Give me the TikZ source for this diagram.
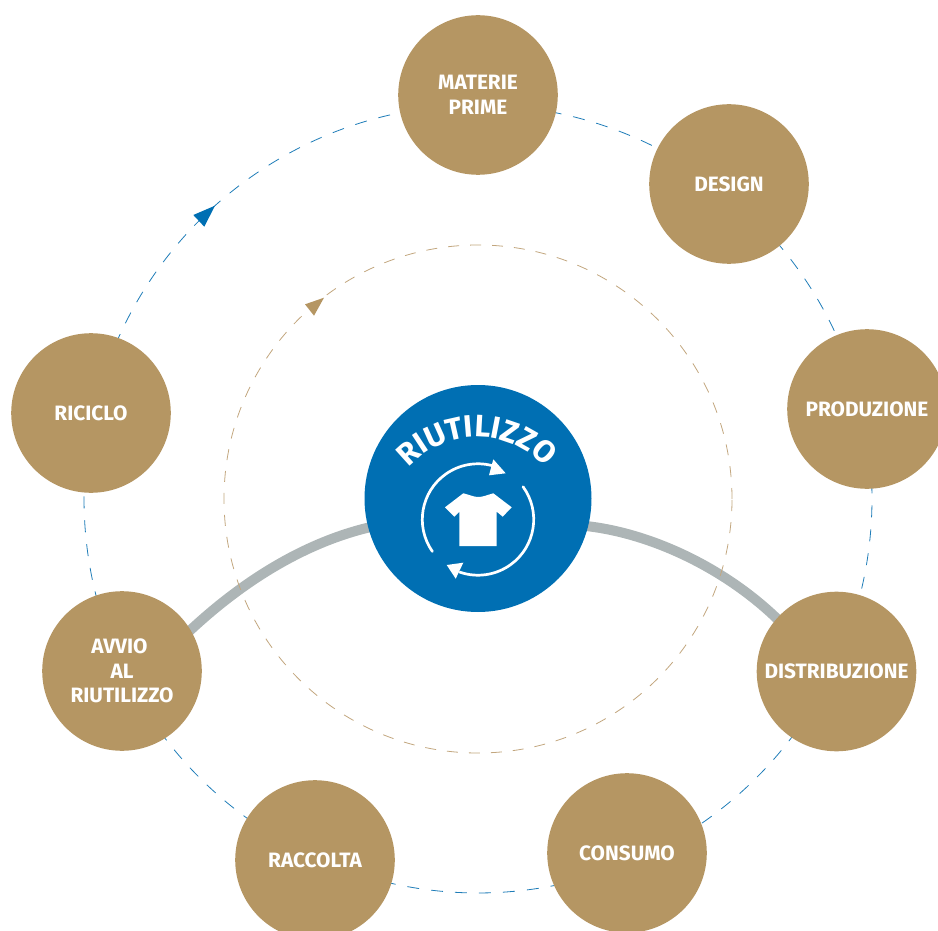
\documentclass[tikz,border=0pt]{standalone}
\usepackage{fontspec}
\setmainfont{Fira Sans}[BoldFont={Fira Sans Bold}]
\usetikzlibrary{decorations.text,calc,backgrounds}
\definecolor{gold}{HTML}{B59663}
\definecolor{bluec}{HTML}{006FB3}
\definecolor{greyc}{HTML}{ADB5B6}
\definecolor{ringblue}{HTML}{1F7DB8}
\definecolor{ringgold}{HTML}{C2A67E}
\tikzset{
  x=1pt,y=1pt,
  stage/.style={circle,fill=gold,draw=none,minimum size=159.6pt,inner sep=0pt,text=white,align=center,font=\fontsize{20.8}{24.5}\selectfont\bfseries},
  ringline/.style={draw=ringblue,line width=0.8pt,dash pattern=on 12pt off 12pt},
  innerring/.style={draw=ringgold,line width=0.8pt,dash pattern=on 11pt off 11pt},
  spine/.style={draw=greyc,line width=10pt},
  iconline/.style={draw=white,line width=2.7pt,line cap=round},
}
\newcommand\ringarc[2]{%
  \draw[ringline] let \p1=(#1),\p2=(#2),\p3=(rc),
    \n1={atan2(\y1-\y3,\x1-\x3)},\n2={atan2(\y2-\y3,\x2-\x3)},
    \n3={mod(\n1-\n2+720,360)} in
    (rc) ++(\n1:394) arc[start angle=\n1,delta angle=-\n3,radius=394];}
\begin{document}
\begin{tikzpicture}
\useasboundingbox (0,-931) rectangle (938,0);
\clip (0,-931) rectangle (938,0);
\coordinate (rc) at (478,-499);
\coordinate (ic) at (478,-499);
% stages
\path
 (478,-95)  node[stage] (mat) {MATERIE\\PRIME}
 (729,-184) node[stage] (des) {DESIGN}
 (867,-409) node[stage] (pro) {PRODUZIONE}
 (836.5,-671.5) node[stage] (dis) {DISTRIBUZIONE}
 (627,-853) node[stage] (con) {CONSUMO}
 (315,-860) node[stage] (rac) {RACCOLTA}
 (122,-671) node[stage] (avv) {AVVIO\hspace*{5pt}\\AL\hspace*{5pt}\\RIUTILIZZO}
 (91,-413)  node[stage] (ric) {RICICLO};
\node[circle,fill=bluec,minimum size=227pt,inner sep=0pt] (cen) at (478,-498.5) {};
% outer ring, grey arcs and inner ring, behind the circles
\begin{scope}[on background layer]
\ringarc{mat}{des}
\ringarc{des}{pro}
\ringarc{pro}{dis}
\ringarc{dis}{con}
\ringarc{con}{rac}
\ringarc{rac}{avv}
\ringarc{avv}{ric}
\ringarc{ric}{mat}
\coordinate (gla) at (175,-645);
\coordinate (glb) at (380,-525);
\coordinate (gra) at (575,-525);
\coordinate (grb) at (790,-632);
\draw[spine] (avv.center) -- (gla) .. controls (235,-585) and (305,-540) .. (glb) -- (cen.center);
\draw[spine] (cen.center) -- (gra) .. controls (650,-530) and (735,-572) .. (grb) -- (dis.center);
\draw[innerring] (ic) circle[radius=254];
\end{scope}
\fill[bluec] (215,-205.7) -- (193.3,-215) -- (204.3,-226.7) -- cycle;
\fill[gold] (324,-297.7) -- (305,-304.3) -- (314,-315.7) -- cycle;
% centre
\coordinate (ri) at (478,-519.5);
\path[decorate,decoration={text along path,text align=center,text={|\fontsize{31}{31}\selectfont\bfseries\color{white}|RIUTILIZZO}}]
  (477,-529) ++(165:92) arc[start angle=165,end angle=15,radius=92];
\draw[iconline] (ri) ++(-145:55.7) arc[start angle=-145,end angle=-285,radius=55.7];
\draw[iconline] (ri) ++(36:55.7) arc[start angle=36,end angle=-109,radius=55.7];
\fill[white] (493.3,-459.3) -- (505.7,-473.3) -- (489,-475.3) -- cycle;
\fill[white] (446.7,-565) -- (463.3,-562.7) -- (455.7,-578.7) -- cycle;
\fill[white] (463.3,-493.3) .. controls (470,-495) and (474,-497) .. (478.3,-497) .. controls (483,-497) and (487,-495) .. (493.3,-493.3)
  -- (511.7,-507.3) -- (502.7,-516.7) -- (496.7,-511.7) -- (496.7,-546) -- (459.3,-546) -- (459.3,-511.7) -- (454.3,-516.7) -- (445,-507.3) -- cycle;
\end{tikzpicture}
\end{document}
